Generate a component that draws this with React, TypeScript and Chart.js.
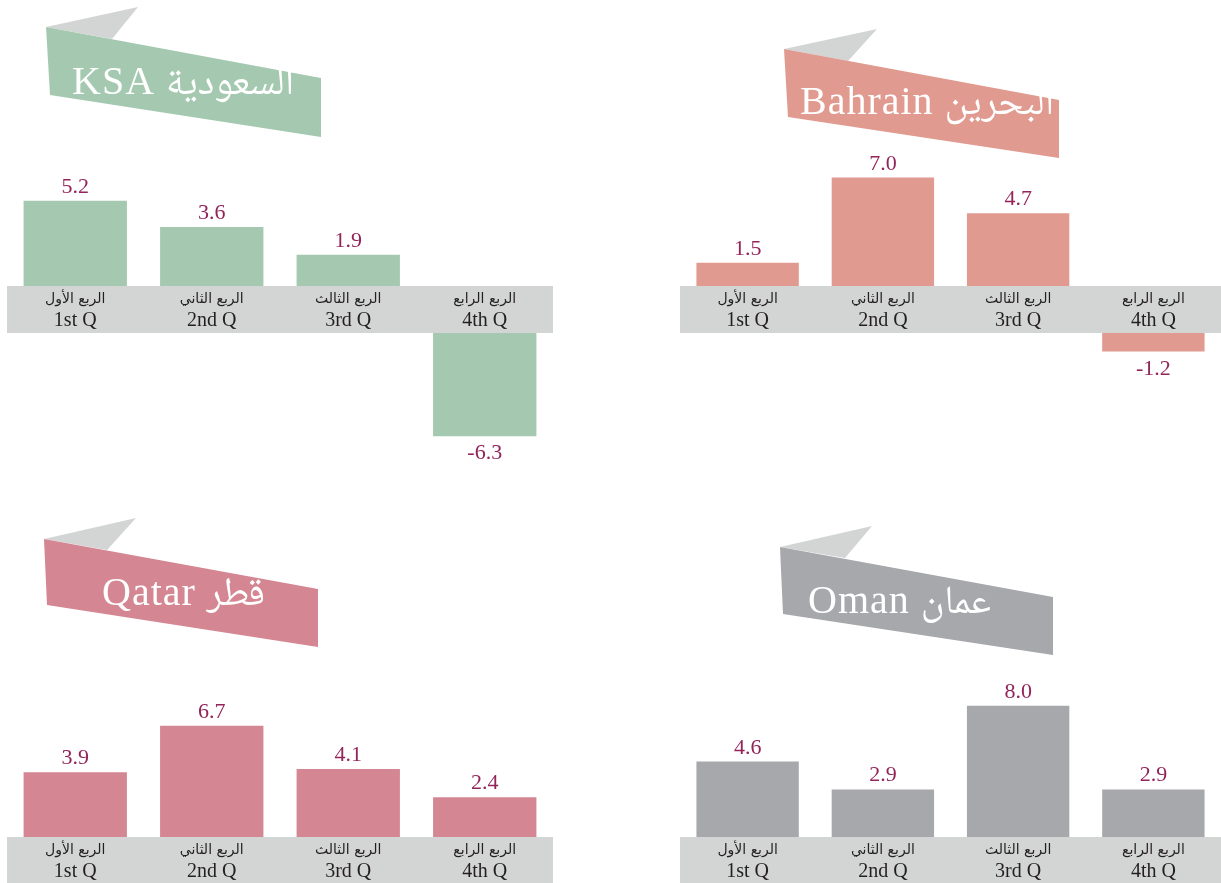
import React, { useEffect, useRef } from "react";
import { Chart, registerables } from "chart.js";

Chart.register(...registerables);

// ---------- DATA ----------
const quartersAr = ["الربع الأول", "الربع الثاني", "الربع الثالث", "الربع الرابع"];
const quartersEn = ["1st Q", "2nd Q", "3rd Q", "4th Q"];
const ksaValues = [5.2, 3.6, 1.9, -6.3];
const bahrainValues = [1.5, 7.0, 4.7, -1.2];
const qatarValues = [3.9, 6.7, 4.1, 2.4];
const omanValues = [4.6, 2.9, 8.0, 2.9];
const ksaTitle = "KSA السعودية";
const bahrainTitle = "Bahrain البحرين";
const qatarTitle = "Qatar قطر";
const omanTitle = "Oman عمان";

// ---------- LAYOUT / STYLE ----------
type Pt = [number, number];
interface Panel {
  key: string;
  title: string;
  values: number[];
  color: string;
  left: number;
  top: number;
  width: number;
  height: number;
  padLeft: number;
  padRight: number;
  bandTop: number; // page coords
  bandBottom: number;
  pxPerUnit: number;
  ribbon: Pt[];
  fold: Pt[];
  textX: number;
  textY: number;
}

const BAND_COLOR = "#D3D5D4";
const VALUE_COLOR = "#93245A";
const LABEL_COLOR = "#231F20";
const SERIF = "'Liberation Serif', 'Noto Naskh Arabic', 'DejaVu Sans', serif";

const panels: Panel[] = [
  {
    key: "ksa", title: ksaTitle, values: ksaValues, color: "#A4C9B0",
    left: 0, top: 0, width: 560, height: 470, padLeft: 7, padRight: 7,
    bandTop: 286, bandBottom: 333, pxPerUnit: 16.4,
    ribbon: [[46, 27], [321, 78], [321, 137], [50, 95]],
    fold: [[46, 27], [138, 7], [112, 39]],
    textX: 72, textY: 94,
  },
  {
    key: "bahrain", title: bahrainTitle, values: bahrainValues, color: "#E09A8F",
    left: 680, top: 0, width: 541, height: 470, padLeft: 0, padRight: 0,
    bandTop: 286, bandBottom: 333, pxPerUnit: 15.5,
    ribbon: [[784, 49], [1059, 100], [1059, 158], [788, 117]],
    fold: [[784, 49], [877, 29], [848, 61]],
    textX: 800, textY: 114,
  },
  {
    key: "qatar", title: qatarTitle, values: qatarValues, color: "#D48793",
    left: 0, top: 470, width: 560, height: 413, padLeft: 7, padRight: 7,
    bandTop: 837, bandBottom: 883, pxPerUnit: 16.6,
    ribbon: [[44, 539], [318, 589], [318, 647], [47, 605]],
    fold: [[44, 539], [136, 518], [107, 550]],
    textX: 102, textY: 605,
  },
  {
    key: "oman", title: omanTitle, values: omanValues, color: "#A7A8AC",
    left: 680, top: 470, width: 541, height: 413, padLeft: 0, padRight: 0,
    bandTop: 837, bandBottom: 883, pxPerUnit: 16.4,
    ribbon: [[780, 547], [1053, 597], [1053, 655], [783, 614]],
    fold: [[780, 547], [872, 526], [845, 558]],
    textX: 808, textY: 613,
  },
];

function poly(ctx: CanvasRenderingContext2D, pts: Pt[], dx: number, dy: number, fill: string) {
  ctx.beginPath();
  pts.forEach(([x, y], i) => {
    if (i === 0) ctx.moveTo(x - dx, y - dy);
    else ctx.lineTo(x - dx, y - dy);
  });
  ctx.closePath();
  ctx.fillStyle = fill;
  ctx.fill();
}

function PanelChart({ p }: { p: Panel }) {
  const ref = useRef<HTMLCanvasElement | null>(null);
  useEffect(() => {
    if (!ref.current) return;
    const k = p.pxPerUnit;
    const bandTopL = p.bandTop - p.top;
    const bandBottomL = p.bandBottom - p.top;
    const bandCenter = (bandTopL + bandBottomL) / 2;
    const gap = (bandBottomL - bandTopL) / 2 / k; // half band in value units
    const yMax = bandCenter / k;
    const yMin = yMax - p.height / k;
    const floating = p.values.map((v) => (v >= 0 ? [gap, gap + v] : [-gap, -gap + v]));

    const decor = {
      id: "decor_" + p.key,
      beforeDatasetsDraw(chart: any) {
        const ctx = chart.ctx as any;
        ctx.save();
        poly(ctx, p.fold, p.left, p.top, BAND_COLOR);
        poly(ctx, p.ribbon, p.left, p.top, p.color);
        ctx.fillStyle = "#FFFFFF";
        ctx.font = `40px ${SERIF}`;
        ctx.textAlign = "left";
        ctx.textBaseline = "alphabetic";
        ctx.direction = "ltr";
        ctx.letterSpacing = "1px";
        ctx.fillText(p.title, p.textX - p.left, p.textY - p.top);
        ctx.restore();
      },
      afterDatasetsDraw(chart: any) {
        const ctx = chart.ctx as CanvasRenderingContext2D;
        const area = chart.chartArea;
        const ys = chart.scales.y;
        const xs = chart.scales.x;
        const bt = ys.getPixelForValue(gap);
        const bb = ys.getPixelForValue(-gap);
        ctx.save();
        ctx.fillStyle = BAND_COLOR;
        ctx.fillRect(area.left, bt, area.right - area.left, bb - bt);
        ctx.textAlign = "center";
        ctx.textBaseline = "alphabetic";
        quartersAr.forEach((lab, i) => {
          const x = xs.getPixelForValue(i);
          ctx.fillStyle = LABEL_COLOR;
          ctx.font = `14px 'DejaVu Sans', sans-serif`;
          ctx.direction = "rtl";
          ctx.fillText(lab, x, bt + 17);
          ctx.direction = "ltr";
          ctx.font = `20px ${SERIF}`;
          ctx.fillText(quartersEn[i], x, bt + 40);
        });
        const meta = chart.getDatasetMeta(0);
        ctx.fillStyle = VALUE_COLOR;
        ctx.font = `22px ${SERIF}`;
        p.values.forEach((v, i) => {
          const el = meta.data[i];
          const label = v.toFixed(1);
          if (v >= 0) ctx.fillText(label, el.x, el.y - 8);
          else ctx.fillText(label, el.x, el.y + 23);
        });
        ctx.restore();
      },
    };

    const chart = new Chart(ref.current, {
      type: "bar",
      data: {
        labels: quartersEn,
        datasets: [
          {
            data: floating as any,
            backgroundColor: p.color,
            borderWidth: 0,
            categoryPercentage: 1,
            barPercentage: 0.757,
          },
        ],
      },
      options: {
        animation: false,
        responsive: true,
        maintainAspectRatio: false,
        devicePixelRatio: 1,
        layout: { padding: { left: p.padLeft, right: p.padRight, top: 0, bottom: 0 } },
        plugins: { legend: { display: false }, tooltip: { enabled: false }, title: { display: false } },
        scales: {
          x: { display: false, offset: true },
          y: { display: false, min: yMin, max: yMax },
        },
      },
      plugins: [decor],
    });
    return () => chart.destroy();
  }, [p]);

  return (
    <div style={{ position: "absolute", left: p.left, top: p.top, width: p.width, height: p.height }}>
      <canvas ref={ref} />
    </div>
  );
}

export default function App() {
  return (
    <div style={{ position: "absolute", left: 0, top: 0, width: 1221, height: 883, background: "#FFFFFF", overflow: "hidden" }}>
      {panels.map((p) => (
        <PanelChart key={p.key} p={p} />
      ))}
    </div>
  );
}
